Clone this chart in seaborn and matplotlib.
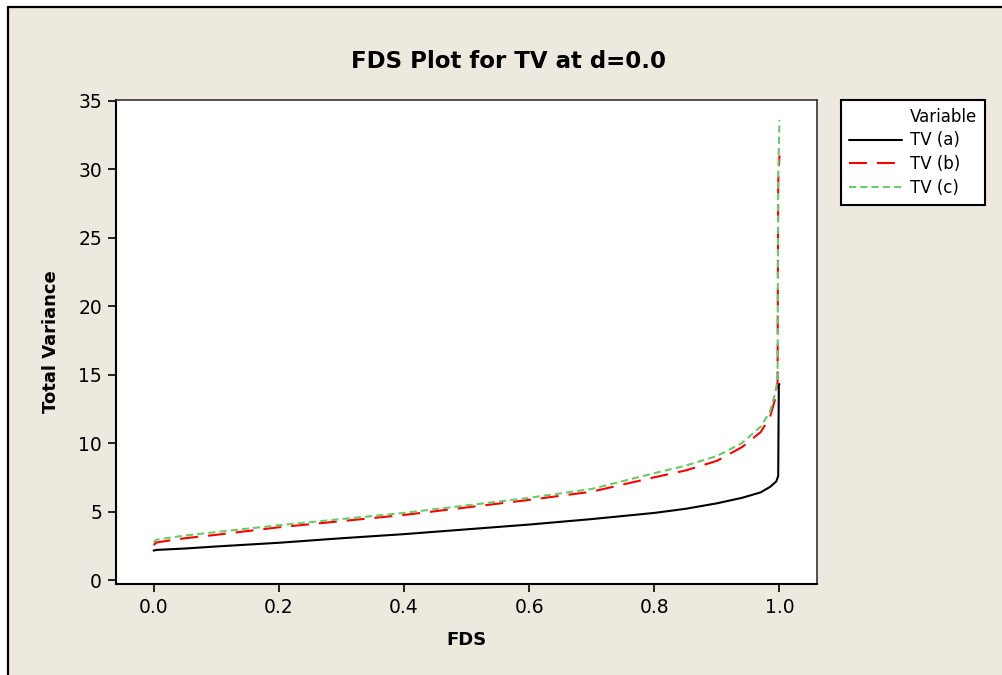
import numpy as np
import pandas as pd
import matplotlib
matplotlib.use("Agg")
import matplotlib.pyplot as plt
from matplotlib.patches import Rectangle
from matplotlib.lines import Line2D
import seaborn as sns

# ---- data (sorted total variance vs fraction of design space)
fds_a = [0.0, 0.005, 0.05, 0.1, 0.2, 0.3, 0.4, 0.5, 0.6, 0.7, 0.8, 0.85, 0.9,
         0.94, 0.97, 0.985, 0.995, 0.998, 0.999, 1.0]
tv_a = [2.15, 2.2, 2.3, 2.45, 2.72, 3.05, 3.35, 3.7, 4.05, 4.45, 4.9, 5.2, 5.6,
        6.0, 6.4, 6.8, 7.2, 7.6, 14.3, 14.3]

fds_b = [0.0, 0.005, 0.05, 0.1, 0.2, 0.3, 0.4, 0.5, 0.6, 0.7, 0.8, 0.85, 0.9,
         0.94, 0.97, 0.985, 0.993, 0.997, 0.998, 1.0]
tv_b = [2.55, 2.75, 3.05, 3.3, 3.85, 4.3, 4.75, 5.3, 5.85, 6.45, 7.5, 8.0, 8.7,
        9.7, 10.8, 11.9, 13.2, 14.4, 29.0, 31.0]

fds_c = [0.0, 0.005, 0.05, 0.1, 0.2, 0.3, 0.4, 0.5, 0.6, 0.7, 0.8, 0.85, 0.9,
         0.94, 0.97, 0.985, 0.993, 0.997, 0.998, 1.0]
tv_c = [2.75, 2.95, 3.25, 3.5, 4.0, 4.45, 4.9, 5.45, 6.0, 6.65, 7.8, 8.35, 9.05,
        10.0, 11.2, 12.3, 13.6, 14.6, 29.4, 33.6]

labels = ["TV (a)", "TV (b)", "TV (c)"]
x_ticks = [0.0, 0.2, 0.4, 0.6, 0.8, 1.0]
y_ticks = [0, 5, 10, 15, 20, 25, 30, 35]

df = pd.concat([
    pd.DataFrame({"FDS": fds_a, "TV": tv_a, "Variable": labels[0]}),
    pd.DataFrame({"FDS": fds_b, "TV": tv_b, "Variable": labels[1]}),
    pd.DataFrame({"FDS": fds_c, "TV": tv_c, "Variable": labels[2]}),
], ignore_index=True)

# ---- style
sns.set_style("ticks")
plt.rcParams["font.family"] = ["DejaVu Sans"]
plt.rcParams["text.color"] = "black"
plt.rcParams["axes.labelcolor"] = "black"
BG = "#EEE9DF"
colors = {"TV (a)": "black", "TV (b)": "#FF0000", "TV (c)": "#66CC66"}
dashes = {"TV (a)": "", "TV (b)": (8.6, 4.8), "TV (c)": (3.4, 2.0)}

# beige panel as figure background, white strip + black edge on top and left
fig = plt.figure(figsize=(10.03, 6.75), dpi=100, facecolor=BG)
fig.patches.append(Rectangle((0, 0), 8 / 1003, 1, transform=fig.transFigure,
                             facecolor="white", edgecolor="none", zorder=-9))
fig.patches.append(Rectangle((0, 1 - 7 / 675), 1, 7 / 675, transform=fig.transFigure,
                             facecolor="white", edgecolor="none", zorder=-9))
fig.add_artist(Line2D([8 / 1003, 8 / 1003], [0, 1 - 7 / 675], color="black",
                      lw=1.6, transform=fig.transFigure))
fig.add_artist(Line2D([8 / 1003, 1], [1 - 7 / 675, 1 - 7 / 675], color="black",
                      lw=1.6, transform=fig.transFigure))

ax = fig.add_axes([116 / 1003, 1 - 584 / 675, 701 / 1003, 484 / 675])
ax.set_facecolor("white")

sns.lineplot(data=df, x="FDS", y="TV", hue="Variable", style="Variable",
             palette=colors, dashes=dashes, estimator=None, sort=False,
             lw=1.5, legend=False, ax=ax)

ax.set_xlim(-0.06, 1.06)
ax.set_ylim(-0.29, 35.05)
ax.set_xticks(x_ticks)
ax.set_xticklabels([f"{v:.1f}" for v in x_ticks])
ax.set_yticks(y_ticks)
ax.tick_params(axis="both", direction="out", length=6, width=1.2,
               labelsize=13.5, colors="black", pad=4)

for side in ["left", "bottom"]:
    ax.spines[side].set_linewidth(1.5)
    ax.spines[side].set_color("black")
for side in ["top", "right"]:
    ax.spines[side].set_visible(True)
    ax.spines[side].set_linewidth(1.2)
    ax.spines[side].set_color("#333333")

ax.set_xlabel("FDS", fontsize=13, fontweight="bold")
ax.set_ylabel("Total Variance", fontsize=13, fontweight="bold")
ax.xaxis.set_label_coords(0.5, -0.098)
ax.yaxis.set_label_coords(-0.08, 0.5)

fig.text(509 / 1003, 1 - 62 / 675, "FDS Plot for TV at d=0.0", ha="center",
         va="center", fontsize=16.5, fontweight="bold", color="black")

# legend: header row aligned with the labels like the original
handles = [Line2D([], [], color="none", label="Variable")]
for lab in labels:
    handles.append(Line2D([], [], color=colors[lab], lw=1.5,
                          dashes=dashes[lab] if dashes[lab] else (None, None),
                          linestyle="-", label=lab))
leg = fig.legend(handles=handles, loc="upper left",
                 bbox_to_anchor=(841 / 1003, 1 - 100 / 675),
                 frameon=True, fancybox=False, framealpha=1, fontsize=12,
                 handlelength=3.2, handletextpad=0.5, labelspacing=0.35,
                 borderpad=0.45, borderaxespad=0)
leg.get_frame().set_edgecolor("black")
leg.get_frame().set_linewidth(1.5)
leg.get_frame().set_facecolor("white")
for t in leg.get_texts():
    t.set_color("black")

fig.savefig("out.png", dpi=100, facecolor=BG)
